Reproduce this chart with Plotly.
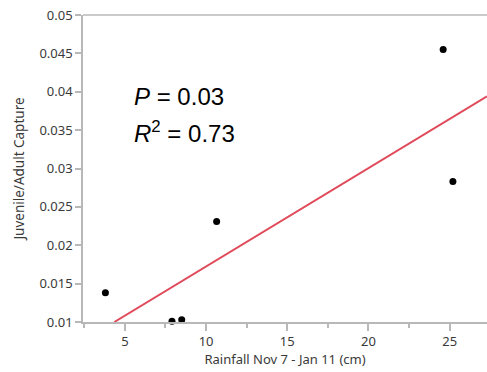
import plotly.graph_objects as go

rainfall = [3.8, 7.9, 8.5, 10.65, 24.6, 25.2]
capture = [0.0138, 0.0101, 0.0103, 0.0231, 0.0455, 0.0283]
fit_x = [4.35, 27.3]
fit_y = [0.0100, 0.0394]
x_ticks = [5, 10, 15, 20, 25]
y_ticks = [0.01, 0.015, 0.02, 0.025, 0.03, 0.035, 0.04, 0.045, 0.05]
y_labels = ["0.01", "0.015", "0.02", "0.025", "0.03", "0.035", "0.04", "0.045", "0.05"]

fig = go.Figure()
fig.add_trace(go.Scatter(x=fit_x, y=fit_y, mode="lines",
                         line=dict(color="#e04a5a", width=2), cliponaxis=True,
                         showlegend=False, hoverinfo="skip"))
fig.add_trace(go.Scatter(x=rainfall, y=capture, mode="markers",
                         marker=dict(color="black", size=7), cliponaxis=False,
                         showlegend=False))

tick_font = dict(family="Noto Sans", size=13, color="#3a3a3a")
axis_col = "#b8b8b8"

fig.update_layout(
    width=487, height=372,
    margin=dict(l=83, r=0, t=15, b=50),
    paper_bgcolor="white", plot_bgcolor="white",
    xaxis=dict(range=[2.42, 27.3], tickvals=x_ticks, ticktext=[str(v) for v in x_ticks],
               showgrid=False, zeroline=False, showline=True, linecolor=axis_col,
               linewidth=1.5, mirror=False, ticks="outside", ticklen=7, tickwidth=1.5,
               tickcolor=axis_col, tickfont=tick_font,
               minor=dict(dtick=2.5, tick0=0, ticks="outside", ticklen=4,
                          tickwidth=1.5, tickcolor=axis_col, showgrid=False),
               title=dict(text="Rainfall Nov 7 - Jan 11 (cm)", standoff=6,
                          font=dict(family="Noto Sans", size=13, color="#3a3a3a"))),
    yaxis=dict(range=[0.01, 0.05], tickvals=y_ticks, ticktext=y_labels,
               showgrid=False, zeroline=False, showline=True, linecolor=axis_col,
               linewidth=1.5, ticks="outside", ticklen=6, tickwidth=1.5,
               tickcolor=axis_col, tickfont=tick_font,
               title=dict(text="Juvenile/Adult Capture", standoff=12,
                          font=dict(family="Noto Sans", size=13.5, color="#3a3a3a"))),
)
# top border line
fig.add_shape(type="line", xref="paper", yref="paper", x0=0, x1=1, y0=1, y1=1,
              line=dict(color=axis_col, width=1.5))

fig.add_annotation(xref="paper", yref="paper", x=0.122, y=0.733, xanchor="left", yanchor="middle",
                   text="<i>P</i> = 0.03", showarrow=False,
                   font=dict(family="Liberation Sans", size=24, color="black"))
fig.add_annotation(xref="paper", yref="paper", x=0.122, y=0.618, xanchor="left", yanchor="middle",
                   text="<i>R</i><sup>2</sup> = 0.73", showarrow=False,
                   font=dict(family="Liberation Sans", size=24, color="black"))

fig.write_html("out.html")
